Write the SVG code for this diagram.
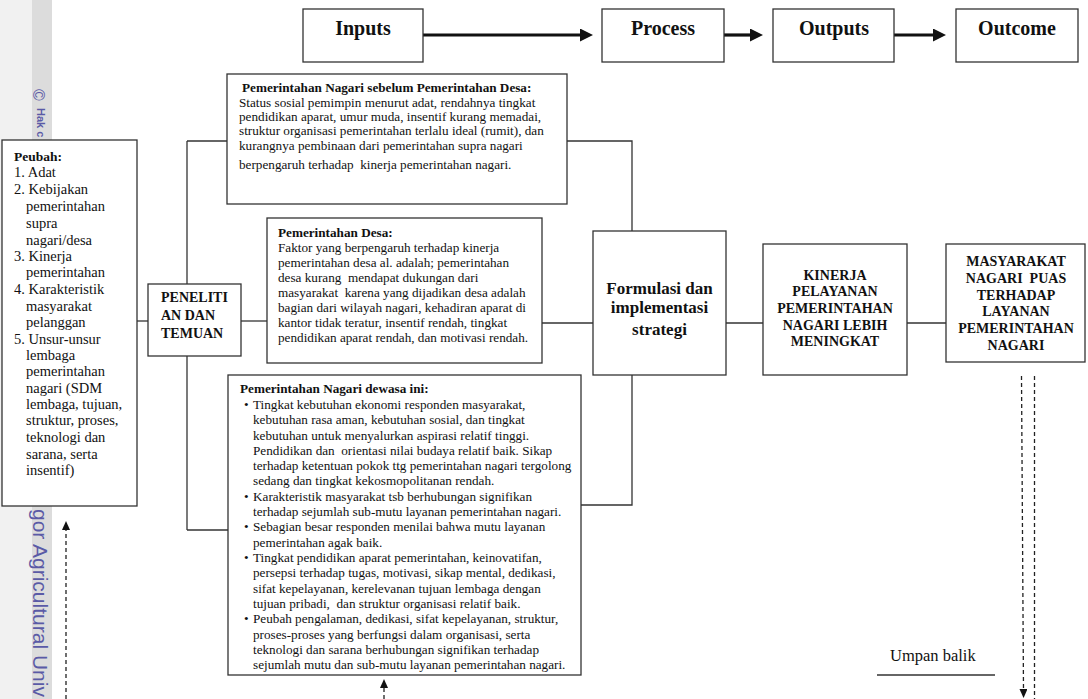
<svg xmlns="http://www.w3.org/2000/svg" width="1088" height="699" viewBox="0 0 1088 699">
<style>
.box{fill:#fff;stroke:#333;stroke-width:1.3}
.t{font-family:"Liberation Serif","Times New Roman",serif;fill:#111;white-space:pre}
.b{font-weight:bold}
.s{font-size:13.2px}
.p{font-size:14.5px}
.h{font-size:20px;font-weight:bold;text-anchor:middle}
.m{font-size:14px;font-weight:bold;text-anchor:middle}
.f{font-size:17px;font-weight:bold;text-anchor:middle}
.ln{fill:none;stroke:#333;stroke-width:1.3}
.thick{fill:none;stroke:#111;stroke-width:3.2}
.dash{fill:none;stroke:#222;stroke-width:1.3;stroke-dasharray:4 3}
.wm{font-family:"Liberation Sans",Arial,sans-serif;fill:#5a5aa6}
</style>
<defs>
<marker id="big" markerUnits="userSpaceOnUse" markerWidth="14" markerHeight="13" refX="2" refY="6.5" orient="auto"><path d="M0,0 L13,6.5 L0,13 z" fill="#111"/></marker>
<marker id="small" markerUnits="userSpaceOnUse" markerWidth="10" markerHeight="8" refX="1" refY="4" orient="auto"><path d="M0,0 L9,4 L0,8 z" fill="#111"/></marker>
</defs>
<g id="watermark">
<rect x="0" y="0" width="32" height="699" fill="#f1f1f1"/>
<rect x="32" y="0" width="20" height="699" fill="#dcdcdc"/>
<text class="wm" font-size="16" transform="translate(33,89) rotate(90)">©</text>
<text class="wm" font-size="11" font-weight="bold" transform="translate(37,108) rotate(90)">Hak c</text>
<text class="wm" font-size="21" transform="translate(33,509) rotate(90)">gor Agricultural Univ</text>
</g>
<g id="connectors">
<path class="ln" d="M187,141 V530"/>
<path class="ln" d="M187,141 H227"/>
<path class="ln" d="M187,530 H228"/>
<path class="ln" d="M137,321 H148"/>
<path class="ln" d="M241,321 H267"/>
<path class="ln" d="M542,323 H593"/>
<path class="ln" d="M567,141 H632 V231"/>
<path class="ln" d="M581,505 H632 V375"/>
<path class="ln" d="M726,323 H763"/>
<path class="ln" d="M907,323 H946"/>
<path class="thick" d="M423,35 H582" marker-end="url(#big)"/>
<path class="thick" d="M724,35 H752" marker-end="url(#big)"/>
<path class="thick" d="M894,35 H935" marker-end="url(#big)"/>
<path class="dash" d="M66,699 V529" marker-end="url(#small)"/>
<path class="dash" d="M384,699 V687" marker-end="url(#small)"/>
<path class="dash" d="M1021.5,376 L1023.5,690" marker-end="url(#small)"/>
<path class="dash" d="M1034.5,376 V699"/>
<path class="ln" d="M877,675 H995"/>
</g>
<g id="inputs"><rect class="box" x="303" y="9" width="120" height="53"/><text class="t h" x="363" y="35">Inputs</text></g>
<g id="process"><rect class="box" x="602" y="9" width="122" height="53"/><text class="t h" x="663" y="35">Process</text></g>
<g id="outputs"><rect class="box" x="773" y="9" width="121" height="53"/><text class="t h" x="834" y="35">Outputs</text></g>
<g id="outcome"><rect class="box" x="956" y="9" width="122" height="53"/><text class="t h" x="1017" y="35">Outcome</text></g>
<g id="peubah">
<rect class="box" x="2" y="140" width="135" height="366"/>
<text class="t p"><tspan class="b" x="14" y="161" font-size="13.5">Peubah:</tspan>
<tspan x="14" y="177">1. Adat</tspan>
<tspan x="14" y="194">2. Kebijakan</tspan>
<tspan x="26" y="211">pemerintahan</tspan>
<tspan x="26" y="228">supra</tspan>
<tspan x="26" y="245">nagari/desa</tspan>
<tspan x="14" y="261">3. Kinerja</tspan>
<tspan x="26" y="277">pemerintahan</tspan>
<tspan x="14" y="294">4. Karakteristik</tspan>
<tspan x="26" y="311">masyarakat</tspan>
<tspan x="26" y="327">pelanggan</tspan>
<tspan x="14" y="344">5. Unsur-unsur</tspan>
<tspan x="26" y="360">lembaga</tspan>
<tspan x="26" y="376">pemerintahan</tspan>
<tspan x="26" y="393">nagari (SDM</tspan>
<tspan x="26" y="409">lembaga, tujuan,</tspan>
<tspan x="26" y="425">struktur, proses,</tspan>
<tspan x="26" y="442">teknologi dan</tspan>
<tspan x="26" y="459">sarana, serta</tspan>
<tspan x="26" y="475">insentif)</tspan></text>
</g>
<g id="penelitian">
<rect class="box" x="148" y="284" width="93" height="72"/>
<text class="t b" font-size="14"><tspan x="161" y="302">PENELITI</tspan><tspan x="161" y="320">AN DAN</tspan><tspan x="161" y="338">TEMUAN</tspan></text>
</g>
<g id="sebelum">
<rect class="box" x="227" y="74" width="340" height="130"/>
<text class="t s"><tspan class="b" x="242" y="92">Pemerintahan Nagari sebelum Pemerintahan Desa:</tspan>
<tspan x="239" y="107">Status sosial pemimpin menurut adat, rendahnya tingkat</tspan>
<tspan x="239" y="121">pendidikan aparat, umur muda, insentif kurang memadai,</tspan>
<tspan x="239" y="135">struktur organisasi pemerintahan terlalu ideal (rumit), dan</tspan>
<tspan x="239" y="150">kurangnya pembinaan dari pemerintahan supra nagari</tspan>
<tspan x="239" y="169">berpengaruh terhadap  kinerja pemerintahan nagari.</tspan></text>
</g>
<g id="desa">
<rect class="box" x="267" y="218" width="275" height="145"/>
<text class="t s"><tspan class="b" x="278" y="237">Pemerintahan Desa:</tspan>
<tspan x="278" y="252">Faktor yang berpengaruh terhadap kinerja</tspan>
<tspan x="278" y="267">pemerintahan desa al. adalah; pemerintahan</tspan>
<tspan x="278" y="282">desa kurang  mendapat dukungan dari</tspan>
<tspan x="278" y="297">masyarakat  karena yang dijadikan desa adalah</tspan>
<tspan x="278" y="312">bagian dari wilayah nagari, kehadiran aparat di</tspan>
<tspan x="278" y="327">kantor tidak teratur, insentif rendah, tingkat</tspan>
<tspan x="278" y="342">pendidikan aparat rendah, dan motivasi rendah.</tspan></text>
</g>
<g id="dewasa">
<rect class="box" x="228" y="375" width="353" height="300"/>
<text class="t s"><tspan class="b" x="240" y="393">Pemerintahan Nagari dewasa ini:</tspan>
<tspan x="244" y="409">•</tspan><tspan x="253" y="409">Tingkat kebutuhan ekonomi responden masyarakat,</tspan>
<tspan x="253" y="424">kebutuhan rasa aman, kebutuhan sosial, dan tingkat</tspan>
<tspan x="253" y="440">kebutuhan untuk menyalurkan aspirasi relatif tinggi.</tspan>
<tspan x="253" y="455">Pendidikan dan  orientasi nilai budaya relatif baik. Sikap</tspan>
<tspan x="253" y="470">terhadap ketentuan pokok ttg pemerintahan nagari tergolong</tspan>
<tspan x="253" y="485">sedang dan tingkat kekosmopolitanan rendah.</tspan>
<tspan x="244" y="501">•</tspan><tspan x="253" y="501">Karakteristik masyarakat tsb berhubungan signifikan</tspan>
<tspan x="253" y="516">terhadap sejumlah sub-mutu layanan pemerintahan nagari.</tspan>
<tspan x="244" y="531">•</tspan><tspan x="253" y="531">Sebagian besar responden menilai bahwa mutu layanan</tspan>
<tspan x="253" y="547">pemerintahan agak baik.</tspan>
<tspan x="244" y="562">•</tspan><tspan x="253" y="562">Tingkat pendidikan aparat pemerintahan, keinovatifan,</tspan>
<tspan x="253" y="577">persepsi terhadap tugas, motivasi, sikap mental, dedikasi,</tspan>
<tspan x="253" y="593">sifat kepelayanan, kerelevanan tujuan lembaga dengan</tspan>
<tspan x="253" y="608">tujuan pribadi,  dan struktur organisasi relatif baik.</tspan>
<tspan x="244" y="623">•</tspan><tspan x="253" y="623">Peubah pengalaman, dedikasi, sifat kepelayanan, struktur,</tspan>
<tspan x="253" y="639">proses-proses yang berfungsi dalam organisasi, serta</tspan>
<tspan x="253" y="654">teknologi dan sarana berhubungan signifikan terhadap</tspan>
<tspan x="253" y="669">sejumlah mutu dan sub-mutu layanan pemerintahan nagari.</tspan></text>
</g>
<g id="formulasi">
<rect class="box" x="593" y="231" width="133" height="144"/>
<text class="t f"><tspan x="659.5" y="294">Formulasi dan</tspan><tspan x="659.5" y="313">implementasi</tspan><tspan x="659.5" y="335">strategi</tspan></text>
</g>
<g id="kinerja">
<rect class="box" x="763" y="244" width="144" height="131"/>
<text class="t m"><tspan x="835" y="280">KINERJA</tspan><tspan x="835" y="296">PELAYANAN</tspan><tspan x="835" y="313">PEMERINTAHAN</tspan><tspan x="835" y="330">NAGARI LEBIH</tspan><tspan x="835" y="346">MENINGKAT</tspan></text>
</g>
<g id="masyarakat">
<rect class="box" x="946" y="244" width="139" height="118"/>
<text class="t m"><tspan x="1016" y="266">MASYARAKAT</tspan><tspan x="1016" y="283">NAGARI  PUAS</tspan><tspan x="1016" y="300">TERHADAP</tspan><tspan x="1016" y="316">LAYANAN</tspan><tspan x="1016" y="333">PEMERINTAHAN</tspan><tspan x="1016" y="350">NAGARI</tspan></text>
</g>
<g id="umpan-balik">
<text class="t" font-size="16.5" x="890" y="661">Umpan balik</text>
</g>
</svg>
